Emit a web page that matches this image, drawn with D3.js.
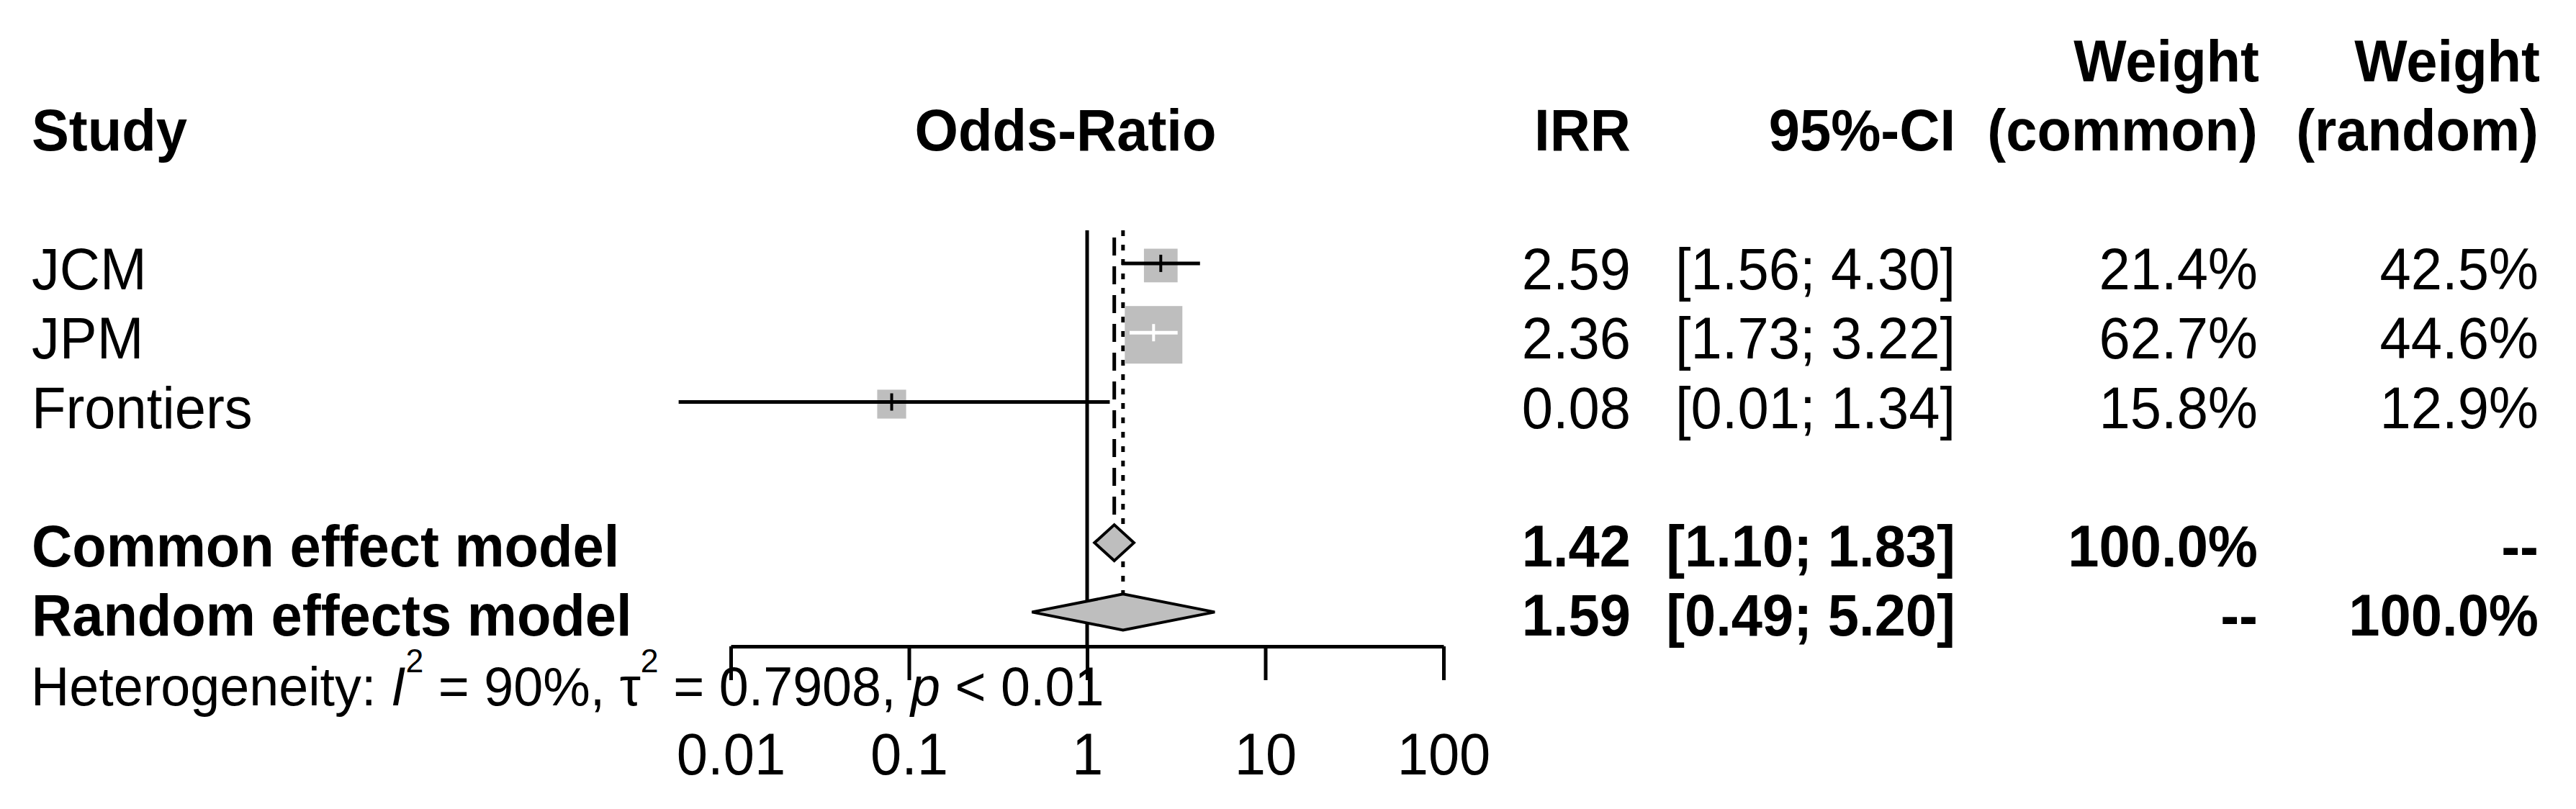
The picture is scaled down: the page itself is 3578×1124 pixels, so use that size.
<!DOCTYPE html>
<html>
<head>
<meta charset="utf-8">
<script src="https://cdn.jsdelivr.net/npm/d3@7"></script>
<style>
  html, body { margin: 0; padding: 0; background: #ffffff; }
  svg text { font-family: "Liberation Sans", Arial, Helvetica, sans-serif; fill: #000; }
</style>
</head>
<body>
<svg id="chart" width="3578" height="1124"></svg>
<script>
// ---------------- data ----------------
const studies   = ["JCM", "JPM", "Frontiers"];
const irr       = [2.59, 2.36, 0.08];
const ciLower   = [1.56, 1.73, 0.0051];
const ciUpper   = [4.30, 3.22, 1.34];
const wCommon   = [21.4, 62.7, 15.8];
const wRandom   = [42.5, 44.6, 12.9];

const modelNames  = ["Common effect model", "Random effects model"];
const modelEst    = [1.42, 1.59];
const modelLower  = [1.10, 0.49];
const modelUpper  = [1.83, 5.20];
const modelWCommon = ["100.0%", "--"];
const modelWRandom = ["--", "100.0%"];

const tickValues = [0.01, 0.1, 1, 10, 100];
const tickLabels = ["0.01", "0.1", "1", "10", "100"];

const hetI2 = "90%";
const hetTau2 = "0.7908";
const hetP = "< 0.01";

// ---------------- layout ----------------
const svg = d3.select("#chart");
svg.append("rect").attr("width", 3578).attr("height", 1124).attr("fill", "#fff");

const FS = 81, SX = 0.96, FS_HET = 76, SX_HET = 0.97;
const x = d3.scaleLog().domain([0.01, 100]).range([1015, 2005]);
// row index -> text baseline
const row = d3.scaleLinear().domain([0, 1]).range([113, 209.3]);
const mid = i => row(i) - 33;        // vertical centre of marker in a row

const studyRows = studies.map((d, i) => 3 + i);
const modelRows = [7, 8];
const hetRow = 9, axisLabelRow = 10;

const colIRR = 2265, colCI = 2716, colWC = 3136, colWR = 3526;
const sqScale = d3.scaleSqrt().domain([0, d3.max(wCommon)]).range([0, 80]);
const fmt = d => d.toFixed(2);
const pct = d => d.toFixed(1) + "%";
const grey = "#bebebe";
const LW = 5;

function txt(g, tx, ty, s, anchor, sx) {
  return g.append("text")
    .attr("transform", `translate(${tx},${ty}) scale(${sx || SX},1)`)
    .attr("text-anchor", anchor || "start")
    .text(s);
}

// ---------------- header ----------------
const hdr = svg.append("g").attr("font-weight", "bold").attr("font-size", FS);
txt(hdr, 44, row(1), "Study");
txt(hdr, 1480, row(1), "Odds-Ratio", "middle");
txt(hdr, colIRR, row(1), "IRR", "end");
txt(hdr, colCI, row(1), "95%-CI", "end");
txt(hdr, colWC + 2, row(0), "Weight", "end");
txt(hdr, colWC, row(1), "(common)", "end");
txt(hdr, colWR + 2, row(0), "Weight", "end");
txt(hdr, colWR, row(1), "(random)", "end");

// ---------------- reference lines ----------------
const topY = 320;
svg.append("line").attr("x1", x(1)).attr("x2", x(1)).attr("y1", topY).attr("y2", 898)
  .attr("stroke", "#000").attr("stroke-width", LW);
const dHalf = 25;
svg.append("line").attr("x1", x(modelEst[0])).attr("x2", x(modelEst[0]))
  .attr("y1", 330).attr("y2", mid(modelRows[0]) - dHalf)
  .attr("stroke", "#000").attr("stroke-width", LW).attr("stroke-dasharray", "25,15");
svg.append("line").attr("x1", x(modelEst[1])).attr("x2", x(modelEst[1]))
  .attr("y1", topY).attr("y2", mid(modelRows[1]) - dHalf)
  .attr("stroke", "#000").attr("stroke-width", LW).attr("stroke-dasharray", "8,12");

// ---------------- studies ----------------
const st = svg.append("g").attr("font-size", FS);
studies.forEach((s, i) => {
  const r = studyRows[i], cy = mid(r);
  txt(st, 44, row(r), s);
  txt(st, colIRR, row(r), fmt(irr[i]), "end");
  txt(st, colCI, row(r), "[" + fmt(ciLower[i]) + "; " + fmt(ciUpper[i]) + "]", "end");
  txt(st, colWC, row(r), pct(wCommon[i]), "end");
  txt(st, colWR, row(r), pct(wRandom[i]), "end");

  const size = sqScale(wCommon[i]);
  const cx = x(irr[i]);
  svg.append("rect").attr("x", cx - size / 2).attr("y", cy - size / 2)
    .attr("width", size).attr("height", size).attr("fill", grey);
  const inside = x(ciLower[i]) >= cx - size / 2 && x(ciUpper[i]) <= cx + size / 2;
  const col = inside ? "#fff" : "#000";
  svg.append("line").attr("x1", x(ciLower[i])).attr("x2", x(ciUpper[i]))
    .attr("y1", cy - 3).attr("y2", cy - 3).attr("stroke", col).attr("stroke-width", LW);
  svg.append("line").attr("x1", cx).attr("x2", cx).attr("y1", cy - 15).attr("y2", cy + 9)
    .attr("stroke", col).attr("stroke-width", 4);
});

// ---------------- models ----------------
const md = svg.append("g").attr("font-size", FS).attr("font-weight", "bold");
modelNames.forEach((m, i) => {
  const r = modelRows[i], cy = mid(r);
  txt(md, 44, row(r), m);
  txt(md, colIRR, row(r), fmt(modelEst[i]), "end");
  txt(md, colCI, row(r), "[" + fmt(modelLower[i]) + "; " + fmt(modelUpper[i]) + "]", "end");
  txt(md, colWC, row(r), modelWCommon[i], "end");
  txt(md, colWR, row(r), modelWRandom[i], "end");
  const pts = [[x(modelLower[i]), cy], [x(modelEst[i]), cy - dHalf], [x(modelUpper[i]), cy], [x(modelEst[i]), cy + dHalf]];
  svg.append("polygon").attr("points", pts.map(p => p.join(",")).join(" "))
    .attr("fill", grey).attr("stroke", "#000").attr("stroke-width", 4).attr("stroke-linejoin", "miter");
});

// ---------------- axis ----------------
const axis = d3.axisBottom(x).tickValues(tickValues).tickFormat((d, i) => tickLabels[i])
  .tickSize(47).tickSizeOuter(0).tickPadding(10);
const ag = svg.append("g").attr("transform", "translate(0,898)").call(axis);
ag.select(".domain").attr("stroke", "#000").attr("stroke-width", LW);
ag.selectAll(".tick line").attr("stroke", "#000").attr("stroke-width", LW);
ag.selectAll(".tick text").attr("font-size", FS).attr("font-family", "Liberation Sans, Arial, sans-serif")
  .attr("dy", null).attr("y", null).attr("fill", "#000")
  .attr("transform", `translate(0,${row(axisLabelRow) - 898}) scale(${SX},1)`);

// ---------------- heterogeneity ----------------
const het = svg.append("text").attr("font-size", FS_HET)
  .attr("transform", `translate(43,${row(hetRow)}) scale(${SX_HET},1)`);
het.append("tspan").text("Heterogeneity: ");
het.append("tspan").attr("font-style", "italic").text("I");
het.append("tspan").attr("font-size", 46).attr("dy", -46).text("2");
het.append("tspan").attr("dy", 46).text(" = " + hetI2 + ", ");
het.append("tspan").text("τ");
het.append("tspan").attr("font-size", 46).attr("dy", -46).text("2");
het.append("tspan").attr("dy", 46).text(" = " + hetTau2 + ", ");
het.append("tspan").attr("font-style", "italic").text("p");
het.append("tspan").text(" " + hetP);
</script>
</body>
</html>
